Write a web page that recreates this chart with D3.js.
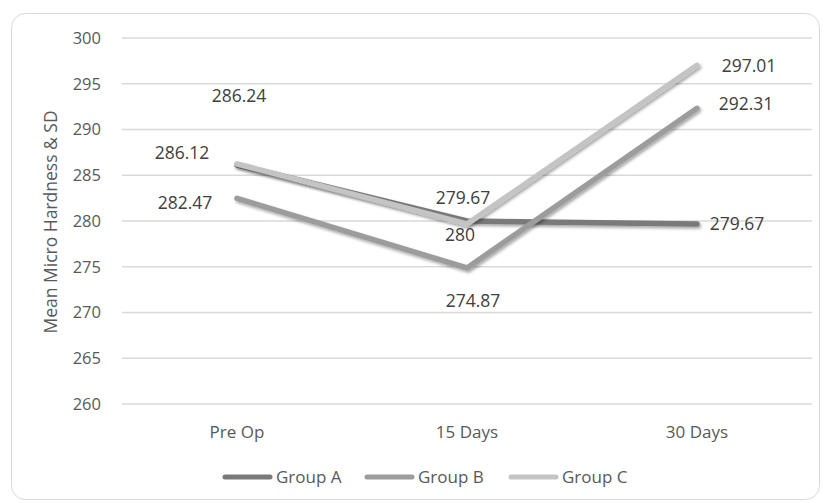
<!DOCTYPE html>
<html><head><meta charset="utf-8">
<script src="https://cdn.jsdelivr.net/npm/d3@7"></script>
<style>body{margin:0;background:#fff}svg{display:block}text{font-family:"Open Sans","Liberation Sans",sans-serif}</style>
</head><body><svg id="c" width="826" height="503"></svg>
<script>
const categories = ["Pre Op", "15 Days", "30 Days"];
const seriesNames = ["Group A", "Group B", "Group C"];
const groupA = [286.12, 280, 279.67];
const groupB = [282.47, 274.87, 292.31];
const groupC = [286.24, 279.67, 297.01];
const yTicks = [260, 265, 270, 275, 280, 285, 290, 295, 300];
const colors = ["#7a7a7a", "#9c9c9c", "#c4c4c4"];
// label offsets (px) relative to each point
const labelOffsets = [
  [[-55, -12], [-7, 14], [40, 0]],
  [[-52, 4], [6, 33], [49, -4]],
  [[2, -68], [-4, -26], [52, 1]]
];
const series = [groupA, groupB, groupC];

const svg = d3.select("#c");
svg.append("rect").attr("x", 11.5).attr("y", 13.5).attr("width", 808).attr("height", 486)
  .attr("rx", 14).attr("fill", "#fff").attr("stroke", "#d9d9d9");

const defs = svg.append("defs");
const f = defs.append("filter").attr("id", "sh").attr("x", "-10%").attr("y", "-30%").attr("width", "130%").attr("height", "160%");
f.append("feDropShadow").attr("dx", 1.5).attr("dy", 2).attr("stdDeviation", 1.6).attr("flood-color", "#000").attr("flood-opacity", 0.35);

const x = d3.scalePoint().domain(categories).range([122, 812]).padding(0.5);
const y = d3.scaleLinear().domain([260, 300]).range([404, 38]);

svg.append("g").selectAll("line").data(yTicks).join("line")
  .attr("x1", 122).attr("x2", 812).attr("y1", d => y(d)).attr("y2", d => y(d))
  .attr("stroke", "#d9d9d9").attr("stroke-width", 1.3);

svg.append("g").selectAll("text").data(yTicks).join("text")
  .attr("x", 101).attr("y", d => y(d)).attr("dy", "0.35em").attr("text-anchor", "end")
  .attr("font-size", 16.5).attr("fill", "#595959").text(d => d);

svg.append("g").selectAll("text").data(categories).join("text")
  .attr("x", d => x(d)).attr("y", 432).attr("dy", "0.35em").attr("text-anchor", "middle")
  .attr("font-size", 17).attr("fill", "#595959").text(d => d);

svg.append("text").attr("transform", "translate(51,222) rotate(-90)").attr("text-anchor", "middle")
  .attr("dy", "0.35em").attr("font-size", 17.5).attr("fill", "#595959").text("Mean Micro Hardness & SD");

const line = d3.line().x((d, i) => x(categories[i])).y(d => y(d));
series.forEach((s, k) => {
  svg.append("path").datum(s).attr("d", line).attr("fill", "none")
    .attr("stroke", colors[k]).attr("stroke-width", 5.5).attr("stroke-linecap", "round").attr("stroke-linejoin", "miter")
    .attr("filter", "url(#sh)");
});

series.forEach((s, k) => {
  svg.append("g").selectAll("text").data(s).join("text")
    .attr("x", (d, i) => x(categories[i]) + labelOffsets[k][i][0])
    .attr("y", (d, i) => y(d) + labelOffsets[k][i][1])
    .attr("dy", "0.35em").attr("text-anchor", "middle")
    .attr("font-size", 17.5).attr("fill", "#404040").text(d => d);
});

const legX = [225, 367, 511];
seriesNames.forEach((n, k) => {
  svg.append("line").attr("x1", legX[k]).attr("x2", legX[k] + 45).attr("y1", 477).attr("y2", 477)
    .attr("stroke", colors[k]).attr("stroke-width", 5).attr("stroke-linecap", "round");
  svg.append("text").attr("x", legX[k] + 51).attr("y", 477).attr("dy", "0.35em")
    .attr("font-size", 17).attr("fill", "#595959").text(n);
});
</script></body></html>
